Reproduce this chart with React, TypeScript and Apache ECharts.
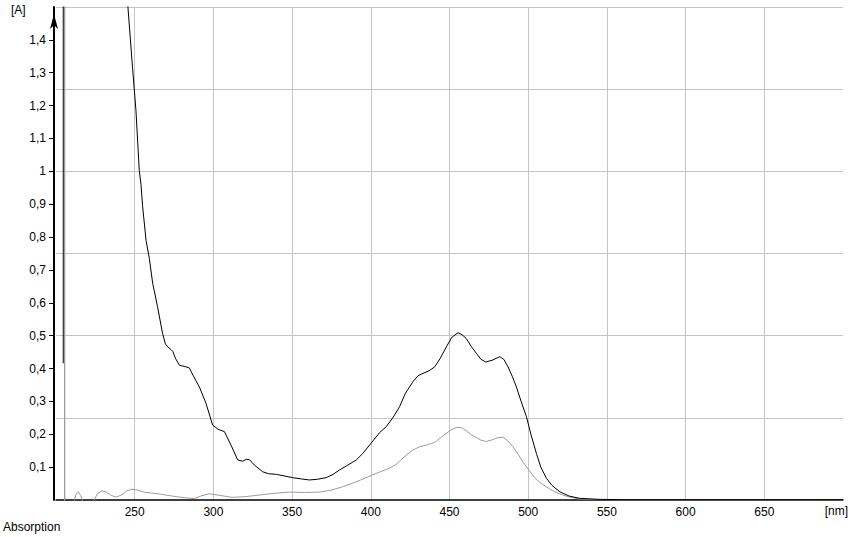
import React, { useEffect, useRef } from "react";
import * as echarts from "echarts";

// Spectrum 1 (black): [wavelength nm, absorbance]
const blackSpectrum: [number, number][] = [
  [204.6, 0.416], [204.6, 5], [230, 5], [240, 2.4], [245.7, 1.5], [248.6, 1.317], [250.8, 1.185],
  [252.9, 1.003], [254, 0.96], [255, 0.895], [257.2, 0.79], [259.3, 0.735], [261.4, 0.66],
  [264.5, 0.588], [267.7, 0.507], [269.5, 0.475], [271, 0.466], [273, 0.458], [274.2, 0.452],
  [276, 0.43], [278.4, 0.41], [282, 0.406], [284.7, 0.402], [287, 0.38], [289, 0.362],
  [291.1, 0.344], [295.3, 0.294], [299.5, 0.228], [303, 0.215], [307, 0.208], [311.2, 0.167],
  [315.4, 0.122], [318.6, 0.118], [321, 0.124], [323, 0.122], [326.1, 0.106], [331.3, 0.086],
  [335, 0.08], [340, 0.078], [350.4, 0.068], [356, 0.064], [361, 0.061], [366, 0.063],
  [371.7, 0.068], [376, 0.078], [380, 0.091], [385, 0.105], [390.8, 0.122], [395, 0.142],
  [399.2, 0.167], [405.6, 0.205], [409.8, 0.223], [414, 0.25], [418.3, 0.284], [422, 0.325],
  [426.8, 0.36], [430, 0.378], [433.1, 0.385], [437, 0.393], [440.6, 0.405], [444, 0.43],
  [448, 0.466], [451.5, 0.495], [455.4, 0.509], [458, 0.503], [460.7, 0.491], [464, 0.466],
  [467.1, 0.446], [470, 0.428], [473, 0.42], [477, 0.425], [481.9, 0.436], [484.5, 0.428],
  [487.2, 0.405], [490, 0.375], [492.5, 0.344], [495.5, 0.3], [498.9, 0.253], [502, 0.195],
  [505.2, 0.142], [508, 0.1], [511.6, 0.066], [515, 0.045], [520.1, 0.025], [526, 0.012],
  [532.8, 0.005], [545, 0.002], [560, 0.001], [700, 0.001],
];

// Spectrum 2 (gray): [wavelength nm, absorbance]
const graySpectrum: [number, number][] = [
  [205.5, -0.5], [205.5, 5], [205.5, -0.5], [211, -0.05], [211.6, 0], [212.8, 0.018],
  [214.2, 0.025], [215.6, 0.014], [216.6, 0], [218, -0.03], [222, -0.03], [224.2, 0],
  [226.5, 0.02], [229.2, 0.028], [232, 0.024], [235, 0.014], [238.2, 0.009], [242, 0.016],
  [245, 0.028], [248.2, 0.033], [252, 0.03], [256, 0.024], [259.2, 0.022], [266, 0.018],
  [273.8, 0.012], [280, 0.008], [287.8, 0.004], [292, 0.012], [297.2, 0.019], [303, 0.015],
  [311.9, 0.008], [320, 0.01], [329, 0.015], [340, 0.021], [348.2, 0.024], [358, 0.023],
  [367, 0.024], [375, 0.03], [382, 0.04], [390, 0.054], [399, 0.072], [405.5, 0.085],
  [411, 0.095], [416, 0.108], [421, 0.13], [426.7, 0.152], [431, 0.162], [436, 0.168],
  [440.5, 0.175], [444, 0.188], [448, 0.203], [451.5, 0.215], [454.7, 0.221], [457.5, 0.22],
  [460.6, 0.211], [463.5, 0.2], [467, 0.19], [470, 0.182], [473.4, 0.178], [477, 0.183],
  [481, 0.19], [484, 0.191], [487, 0.18], [490.3, 0.162], [493.5, 0.14], [496.6, 0.116],
  [500, 0.094], [503, 0.074], [507, 0.055], [511.5, 0.04], [516, 0.027], [522, 0.015],
  [527, 0.008], [532.7, 0.003], [545, 0.001], [560, 0], [700, 0],
];

const yTickValues = [0.1, 0.2, 0.3, 0.4, 0.5, 0.6, 0.7, 0.8, 0.9, 1.0, 1.1, 1.2, 1.3, 1.4];
const xLabelValues = [250, 300, 350, 400, 450, 500, 550, 600, 650];

const FONT = '"Liberation Sans", Arial, sans-serif';

export default function App() {
  const ref = useRef<HTMLDivElement>(null);
  useEffect(() => {
    if (!ref.current) return;
    const chart = echarts.init(ref.current, null, { renderer: "svg" });
    chart.setOption({
      animation: false,
      backgroundColor: "#ffffff",
      grid: { left: 56, right: 6, top: 7, bottom: 37 },
      xAxis: {
        type: "value",
        min: 200,
        max: 700,
        interval: 50,
        axisLine: { show: true, onZero: false, lineStyle: { color: "#000", width: 1.5 } },
        axisTick: { show: false },
        axisLabel: {
          color: "#000",
          fontSize: 12,
          fontFamily: FONT,
          margin: 6,
          formatter: (v: number) => (xLabelValues.includes(v) ? String(v) : ""),
        },
        splitLine: {
          show: true,
          showMinLine: false,
          showMaxLine: false,
          lineStyle: { color: "#c4c4c4", width: 1 },
        },
      },
      yAxis: [
        {
          type: "value",
          min: 0,
          max: 1.5,
          interval: 0.1,
          offset: 2,
          axisLine: {
            show: true,
            onZero: false,
            lineStyle: { color: "#000", width: 2 },
            symbol: ["none", "arrow"],
            symbolSize: [6, 15],
            symbolOffset: [0, -7],
          },
          axisTick: {
            show: true,
            length: 5,
            customValues: yTickValues,
            lineStyle: { color: "#000", width: 1 },
          },
          axisLabel: {
            color: "#000",
            fontSize: 12,
            fontFamily: FONT,
            margin: 8,
            customValues: yTickValues,
            formatter: (v: number) => String(Math.round(v * 10) / 10).replace(".", ","),
          },
          splitLine: { show: false },
        },
        {
          type: "value",
          min: 0,
          max: 1.5,
          interval: 0.25,
          axisLine: { show: false },
          axisTick: { show: false },
          axisLabel: { show: false },
          splitLine: {
            show: true,
            showMinLine: false,
            lineStyle: { color: "#c4c4c4", width: 1 },
          },
        },
      ],
      graphic: [
        {
          type: "text",
          x: 11,
          y: 10,
          style: { text: "[A]", fill: "#000", font: `12px ${FONT}`, align: "left", verticalAlign: "middle" },
        },
        {
          type: "text",
          x: 3,
          y: 527,
          style: { text: "Absorption", fill: "#000", font: `12px ${FONT}`, align: "left", verticalAlign: "middle" },
        },
        {
          type: "text",
          x: 848,
          y: 511,
          style: { text: "[nm]", fill: "#000", font: `12px ${FONT}`, align: "right", verticalAlign: "middle" },
        },
      ],
      series: [
        {
          type: "line",
          data: graySpectrum,
          yAxisIndex: 0,
          showSymbol: false,
          clip: true,
          lineStyle: { color: "#9c9c9c", width: 1 },
          itemStyle: { color: "#9c9c9c" },
          z: 3,
        },
        {
          type: "line",
          data: blackSpectrum,
          yAxisIndex: 0,
          showSymbol: false,
          clip: true,
          lineStyle: { color: "#000", width: 1 },
          itemStyle: { color: "#000" },
          z: 4,
        },
      ],
    });
    return () => chart.dispose();
  }, []);
  return (
    <div
      ref={ref}
      style={{ position: "fixed", left: 0, top: 0, width: 849, height: 537, background: "#fff" }}
    />
  );
}
